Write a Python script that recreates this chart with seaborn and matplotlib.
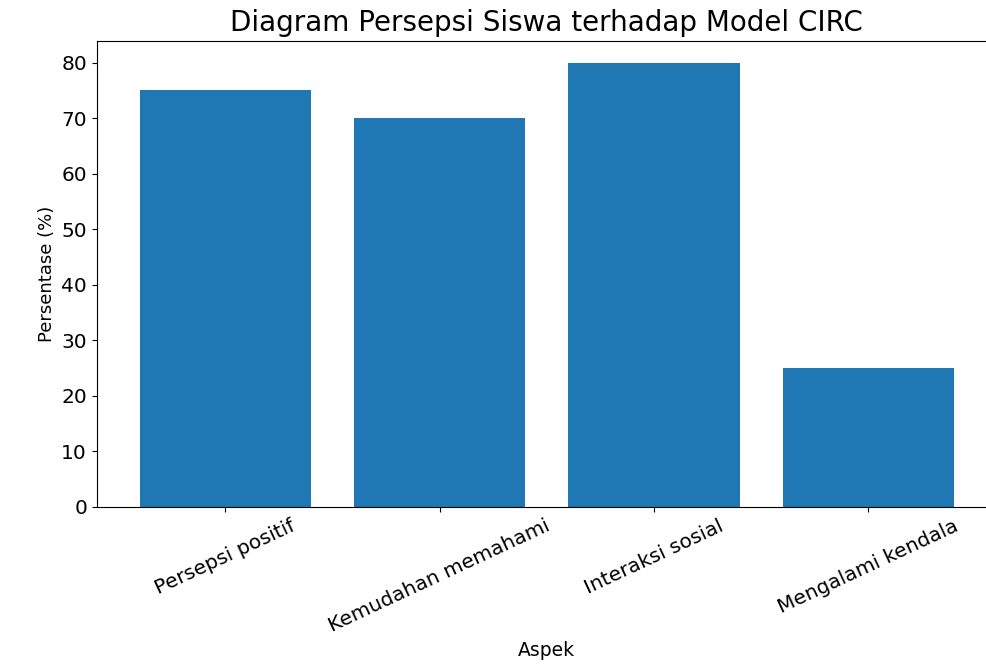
import matplotlib
matplotlib.use('Agg')
import matplotlib.pyplot as plt
import seaborn as sns
import pandas as pd

# data
aspek = ['Persepsi positif', 'Kemudahan memahami', 'Interaksi sosial', 'Mengalami kendala']
persentase = [75, 70, 80, 25]

df = pd.DataFrame({'Aspek': aspek, 'Persentase': persentase})

plt.rcParams['font.family'] = ['DejaVu Sans']

fig, ax = plt.subplots(figsize=(9.87, 6.64), dpi=100)
sns.barplot(data=df, x='Aspek', y='Persentase', color='#1f77b4', saturation=1, width=0.8, ax=ax)

ax.set_title('Diagram Persepsi Siswa terhadap Model CIRC', fontsize=20, pad=7)
ax.set_xlabel('Aspek', fontsize=13.5, labelpad=4)
ax.set_ylabel('Persentase (%)', fontsize=13)
ax.tick_params(axis='both', labelsize=14.5)
plt.setp(ax.get_xticklabels(), rotation=25, ha='center')
ax.set_xlim(-0.6, 3.6)
ax.set_ylim(0, 84)

# the reference is cropped on the right, so the axes run past the edge
fig.subplots_adjust(left=0.098, right=1.01, top=0.939, bottom=0.237)
fig.savefig('out.png', dpi=100)
